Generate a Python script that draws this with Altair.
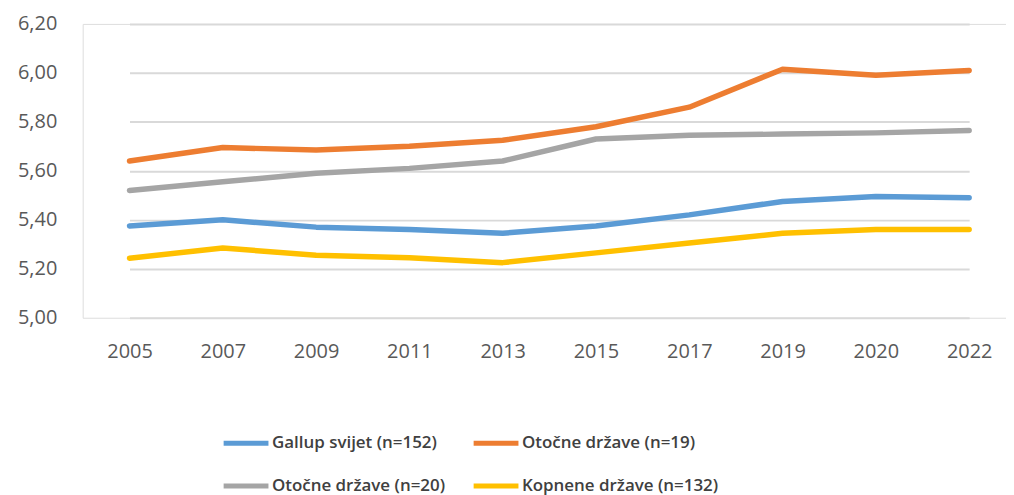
import altair as alt
import pandas as pd

years = ["2005", "2007", "2009", "2011", "2013", "2015", "2017", "2019", "2020", "2022"]
series_names = ["Gallup svijet (n=152)", "Otočne države (n=19)", "Otočne države (n=20)", "Kopnene države (n=132)"]
colors = ["#5B9BD5", "#ED7D31", "#A5A5A5", "#FFC000"]

gallup = [5.375, 5.40, 5.37, 5.36, 5.345, 5.375, 5.42, 5.475, 5.495, 5.49]
otocne19 = [5.64, 5.695, 5.685, 5.70, 5.725, 5.78, 5.86, 6.015, 5.99, 6.01]
otocne20 = [5.52, 5.555, 5.59, 5.61, 5.64, 5.73, 5.745, 5.75, 5.755, 5.765]
kopnene = [5.243, 5.285, 5.255, 5.245, 5.225, 5.265, 5.305, 5.345, 5.36, 5.36]

rows = []
for name, vals in zip(series_names, [gallup, otocne19, otocne20, kopnene]):
    for y, v in zip(years, vals):
        rows.append({"Godina": y, "Vrijednost": v, "Serija": name})
df = pd.DataFrame(rows)

FONT = "Open Sans"

chart = alt.Chart(df).mark_line(strokeWidth=5.5, strokeCap="round", strokeJoin="round").encode(
    x=alt.X("Godina:O", sort=years,
            scale=alt.Scale(type="point", range=[47, 890], padding=0),
            axis=alt.Axis(title=None, labelAngle=0, domain=False, ticks=False,
                          labelPadding=24, labelFontSize=20, labelColor="#595959",
                          labelFont=FONT, grid=False)),
    y=alt.Y("Vrijednost:Q", scale=alt.Scale(domain=[5.0, 6.2], nice=False, zero=False),
            axis=alt.Axis(title=None, values=[5.0, 5.2, 5.4, 5.6, 5.8, 6.0, 6.2],
                          labelExpr="replace(format(datum.value, '.2f'), '.', ',')",
                          domain=False, ticks=False, labelPadding=26, labelFontSize=20,
                          labelColor="#595959", labelFont=FONT,
                          gridColor="#D9D9D9", gridWidth=2)),
    color=alt.Color("Serija:N", sort=series_names,
                    scale=alt.Scale(domain=series_names, range=colors),
                    legend=alt.Legend(title=None, orient="none", legendX=139, legendY=396,
                                      direction="horizontal", columns=2,
                                      symbolType="stroke", symbolSize=2025,
                                      symbolStrokeWidth=5, labelFontSize=17, labelFont=FONT,
                                      labelFontWeight=600, labelColor="#404040",
                                      labelLimit=400,
                                      labelOffset=1, columnPadding=18, rowPadding=8,
                                      symbolOffset=0)),
).properties(
    width=927, height=295,
    padding={"left": 75, "top": 15, "right": 0, "bottom": 178},
    autosize=alt.AutoSizeParams(type="none"),
).configure_view(stroke="transparent", strokeWidth=0).configure(background="white")

chart.save("out.html", embed_options={"renderer": "svg", "actions": False})
